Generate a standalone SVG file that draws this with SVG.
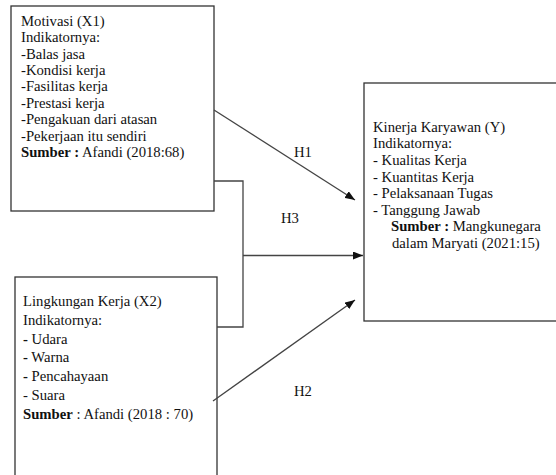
<svg xmlns="http://www.w3.org/2000/svg" width="556" height="475" viewBox="0 0 556 475">
<style>
text{font-family:"Liberation Serif","Times New Roman",serif;font-size:14.7px;fill:#111}
.b{font-weight:bold}
.box{fill:#fff;stroke:#333;stroke-width:1.3}
.ln{fill:none;stroke:#444;stroke-width:1.3}
</style>
<defs>
<marker id="ah" viewBox="0 0 10 8" refX="10" refY="4" markerWidth="10" markerHeight="8" markerUnits="userSpaceOnUse" orient="auto">
<path d="M0,0 L10,4 L0,8 z" fill="#111"/>
</marker>
</defs>
<rect width="556" height="475" fill="#fff"/>
<g id="x1">
<rect class="box" x="11" y="6" width="203" height="205"/>
<text x="21" y="25.7">Motivasi (X1)</text>
<text x="21" y="42.1">Indikatornya:</text>
<text x="21" y="58.5">-Balas jasa</text>
<text x="21" y="74.9">-Kondisi kerja</text>
<text x="21" y="91.3">-Fasilitas kerja</text>
<text x="21" y="107.7">-Prestasi kerja</text>
<text x="21" y="124.1">-Pengakuan dari atasan</text>
<text x="21" y="140.5">-Pekerjaan itu sendiri</text>
<text x="21" y="156.9"><tspan class="b">Sumber :</tspan> Afandi (2018:68)</text>
</g>
<g id="x2">
<rect class="box" x="15" y="277" width="202" height="210"/>
<text x="23" y="306">Lingkungan Kerja (X2)</text>
<text x="23" y="324.8">Indikatornya:</text>
<text x="23" y="343.6"><tspan class="b">-</tspan> Udara</text>
<text x="23" y="362.4"><tspan class="b">-</tspan> Warna</text>
<text x="23" y="381.2"><tspan class="b">-</tspan> Pencahayaan</text>
<text x="23" y="400">- Suara</text>
<text x="23" y="418.8"><tspan class="b">Sumber</tspan> : Afandi (2018 : 70)</text>
</g>
<g id="y">
<rect class="box" x="364" y="83" width="200" height="238"/>
<text x="373" y="131.7">Kinerja Karyawan (Y)</text>
<text x="373" y="148.3">Indikatornya:</text>
<text x="373" y="164.9">- Kualitas Kerja</text>
<text x="373" y="181.5">- Kuantitas Kerja</text>
<text x="373" y="198.1">- Pelaksanaan Tugas</text>
<text x="373" y="214.7">- Tanggung Jawab</text>
<text x="391" y="231.3"><tspan class="b">Sumber :</tspan> Mangkunegara</text>
<text x="392" y="247.9">dalam Maryati (2021:15)</text>
</g>
<g id="connectors">
<line class="ln" x1="214" y1="110" x2="355" y2="200" marker-end="url(#ah)"/>
<polyline class="ln" points="214,181 243,181 243,327 217,327"/>
<line class="ln" x1="243" y1="255.5" x2="363" y2="255.5" marker-end="url(#ah)"/>
<line class="ln" x1="213" y1="401" x2="355" y2="300" marker-end="url(#ah)"/>
<text x="303" y="157" text-anchor="middle">H1</text>
<text x="290" y="223" text-anchor="middle">H3</text>
<text x="303" y="396" text-anchor="middle">H2</text>
</g>
</svg>
